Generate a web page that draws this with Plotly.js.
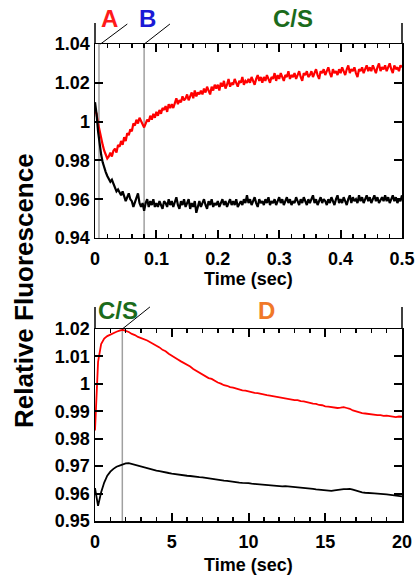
<!DOCTYPE html>
<html>
<head>
<meta charset="utf-8">
<script src="https://cdn.plot.ly/plotly-3.0.1.min.js"></script>
<style>html,body{margin:0;padding:0;background:#fff;}#chart{width:416px;height:577px;}</style>
</head>
<body>
<div id="chart"></div>
<script>
// ---- data ----
const topT0 = 0, topDt = 0.0025;  // time grid of the top panel (sec)
const botT0 = 0, botDt = 0.2;     // time grid of the bottom panel (sec)

const redTop = [
 1.006,1.004,0.999,0.995,0.991,0.988,0.985,0.983,0.981,0.982,
 0.984,0.982,0.985,0.986,0.984,0.988,0.987,0.990,0.988,0.992,
 0.990,0.994,0.993,0.996,0.995,0.999,0.998,1.001,0.999,1.002,
 1.000,0.998,0.997,0.999,1.001,1.000,1.003,1.001,1.004,1.002,
 1.005,1.003,1.006,1.004,1.007,1.006,1.008,1.005,1.009,1.007,
 1.009,1.007,1.010,1.012,1.009,1.011,1.010,1.013,1.011,1.012,
 1.014,1.011,1.013,1.015,1.012,1.016,1.013,1.015,1.014,1.016,
 1.014,1.017,1.015,1.018,1.016,1.014,1.018,1.016,1.019,1.017,
 1.019,1.016,1.020,1.018,1.021,1.017,1.019,1.022,1.018,1.020,
 1.019,1.022,1.020,1.018,1.021,1.020,1.023,1.019,1.021,1.020,
 1.022,1.020,1.023,1.021,1.019,1.022,1.024,1.021,1.023,1.020,
 1.023,1.021,1.024,1.022,1.020,1.023,1.022,1.025,1.021,1.024,
 1.022,1.025,1.023,1.021,1.024,1.023,1.026,1.022,1.024,1.023,
 1.025,1.022,1.024,1.026,1.023,1.021,1.025,1.024,1.026,1.023,
 1.024,1.026,1.023,1.025,1.027,1.024,1.022,1.026,1.025,1.027,
 1.024,1.026,1.028,1.025,1.023,1.027,1.025,1.026,1.024,1.027,
 1.025,1.028,1.026,1.024,1.027,1.029,1.025,1.027,1.026,1.028,
 1.025,1.023,1.027,1.026,1.028,1.025,1.027,1.029,1.026,1.028,
 1.026,1.029,1.027,1.025,1.028,1.030,1.026,1.028,1.027,1.029,
 1.026,1.028,1.030,1.027,1.025,1.029,1.027,1.028,1.026,1.029,
 1.028
];
const blackTop = [
 1.010,1.004,0.995,0.988,0.983,0.979,0.976,0.974,0.972,0.970,
 0.969,0.970,0.968,0.966,0.964,0.965,0.963,0.962,0.964,0.961,
 0.959,0.961,0.963,0.960,0.959,0.956,0.958,0.961,0.963,0.958,
 0.956,0.958,0.954,0.958,0.960,0.956,0.959,0.957,0.960,0.956,
 0.958,0.956,0.959,0.957,0.955,0.959,0.958,0.956,0.960,0.957,
 0.959,0.956,0.958,0.961,0.957,0.955,0.959,0.957,0.960,0.956,
 0.958,0.960,0.955,0.958,0.956,0.959,0.953,0.957,0.959,0.956,
 0.958,0.960,0.957,0.955,0.959,0.957,0.960,0.956,0.958,0.957,
 0.959,0.956,0.958,0.960,0.957,0.959,0.956,0.958,0.960,0.957,
 0.959,0.957,0.960,0.956,0.958,0.959,0.957,0.960,0.958,0.962,
 0.958,0.960,0.957,0.959,0.961,0.958,0.956,0.960,0.958,0.959,
 0.957,0.960,0.958,0.961,0.957,0.959,0.958,0.960,0.957,0.959,
 0.961,0.958,0.960,0.957,0.959,0.961,0.958,0.960,0.957,0.959,
 0.958,0.961,0.959,0.957,0.960,0.958,0.961,0.959,0.957,0.960,
 0.958,0.960,0.962,0.958,0.960,0.957,0.959,0.961,0.958,0.960,
 0.959,0.957,0.960,0.958,0.961,0.959,0.957,0.960,0.962,0.958,
 0.960,0.958,0.961,0.959,0.957,0.960,0.962,0.958,0.961,0.959,
 0.960,0.958,0.962,0.959,0.961,0.958,0.960,0.962,0.959,0.961,
 0.958,0.960,0.962,0.959,0.961,0.958,0.960,0.961,0.959,0.962,
 0.959,0.961,0.958,0.960,0.962,0.959,0.961,0.958,0.960,0.959,
 0.962
];
const redBot = [
 0.983,1.008,1.0145,1.0165,1.0174,1.018,1.0186,1.019,1.0194,1.0197,
 1.0193,1.0189,1.0182,1.0178,1.0171,1.0167,1.0162,1.0158,1.0152,1.0146,
 1.0139,1.0133,1.0124,1.0119,1.011,1.0102,1.0097,1.0089,1.0082,1.0076,
 1.0068,1.0063,1.0054,1.0047,1.0042,1.0034,1.0029,1.0021,1.0018,1.0011,
 1.0005,1.0001,0.9995,0.9993,0.9988,0.9986,0.9982,0.9980,0.9976,0.9975,
 0.9972,0.9971,0.9967,0.9966,0.9963,0.9962,0.9959,0.9957,0.9955,0.9952,
 0.9951,0.9948,0.9948,0.9945,0.9944,0.9941,0.9941,0.9937,0.9936,0.9933,
 0.9931,0.9928,0.9927,0.9923,0.9922,0.9918,0.9917,0.9915,0.9913,0.9912,
 0.9913,0.9915,0.9912,0.9909,0.9903,0.9899,0.9897,0.9893,0.9892,0.9890,
 0.9889,0.9888,0.9886,0.9886,0.9883,0.9884,0.9882,0.9881,0.9879,0.9881,0.9880
];
const blackBot = [
 0.962,0.9555,0.9605,0.964,0.9665,0.968,0.969,0.9698,0.9702,0.9706,
 0.971,0.9711,0.9708,0.9705,0.9701,0.9697,0.9694,0.9691,0.9689,0.9686,
 0.9684,0.9682,0.9679,0.9677,0.9675,0.9673,0.9671,0.967,0.9668,0.9667,
 0.9665,0.9664,0.9662,0.9661,0.966,0.9659,0.9657,0.9656,0.9654,0.9652,
 0.965,0.9649,0.9647,0.9646,0.9644,0.9643,0.9642,0.964,0.9639,0.9639,
 0.9638,0.9636,0.9635,0.9633,0.9632,0.9631,0.963,0.9629,0.9628,0.9627,
 0.9626,0.9626,0.9627,0.9626,0.9625,0.9625,0.9624,0.9623,0.9621,0.9619,
 0.9618,0.9617,0.9615,0.9614,0.9613,0.9612,0.961,0.961,0.9612,0.9614,
 0.9615,0.9616,0.9616,0.9617,0.9614,0.961,0.9606,0.9604,0.9603,0.9603,
 0.9602,0.9601,0.96,0.96,0.9598,0.9597,0.9596,0.9595,0.9594,0.9592,0.959
];

// phase markers (sec)
const topMarks = [0.0065, 0.08];
const botMarks = [1.78];
const topLabels = [
  {text:'A',   t:0.0244, color:'#ff1a1a'},
  {text:'B',   t:0.0847, color:'#1a1ad6'},
  {text:'C/S', t:0.3225, color:'#1b6b1b'}
];
const botLabels = [
  {text:'C/S', t:1.5,  color:'#1b6b1b'},
  {text:'D',   t:11.2, color:'#f07828'}
];
const xTitle = 'Time (sec)';
const yTitle = 'Relative Fluorescence';

// ---- styling ----
const FONT = 'Liberation Sans, Arial, Helvetica, sans-serif';
function tickFont() { return {family: FONT, size: 18, color: '#000', weight: 'bold'}; }

function axisCommon(extra) {
  return Object.assign({
    showline: true, linecolor: '#000', linewidth: 1.5, mirror: 'ticks',
    ticks: 'inside', ticklen: 7, tickwidth: 2, tickcolor: '#000', layer: 'above traces',
    showgrid: false, zeroline: false, tickfont: tickFont(), fixedrange: true
  }, extra);
}

const traces = [
  {x0: topT0, dx: topDt, y: redTop, type: 'scatter', mode: 'lines',
   line: {color: '#ff0000', width: 2.2}, xaxis: 'x', yaxis: 'y', showlegend: false},
  {x0: topT0, dx: topDt, y: blackTop, type: 'scatter', mode: 'lines',
   line: {color: '#000000', width: 2.2}, xaxis: 'x', yaxis: 'y', showlegend: false},
  {x0: botT0, dx: botDt, y: redBot, type: 'scatter', mode: 'lines',
   line: {color: '#ff0000', width: 1.8}, xaxis: 'x2', yaxis: 'y2', showlegend: false},
  {x0: botT0, dx: botDt, y: blackBot, type: 'scatter', mode: 'lines',
   line: {color: '#000000', width: 1.8}, xaxis: 'x2', yaxis: 'y2', showlegend: false}
];

const shapes = [];
// frame extensions above each panel
[['x','y',1.108],['x2','y2',1.115]].forEach(([xa, ya, top]) => {
  [0, 1].forEach(xd => shapes.push({type:'line', xref: xa + ' domain', yref: ya + ' domain',
    x0: xd, x1: xd, y0: 1, y1: top, line: {color:'#000', width:1.5}}));
});
// gray vertical phase lines and diagonal connectors
topMarks.forEach(t => {
  shapes.push({type:'line', xref:'x', yref:'y domain', x0:t, x1:t, y0:0, y1:1,
    layer:'below', line:{color:'#a0a0a0', width:1.5}});
});
shapes.push({type:'line', xref:'x', yref:'y domain', x0:0.009, x1:0.0526, y0:1, y1:1.103, line:{color:'#000', width:1}});
shapes.push({type:'line', xref:'x', yref:'y domain', x0:0.0803, x1:0.122, y0:1, y1:1.103, line:{color:'#000', width:1}});
botMarks.forEach(t => {
  shapes.push({type:'line', xref:'x2', yref:'y2 domain', x0:t, x1:t, y0:0, y1:1,
    layer:'below', line:{color:'#a0a0a0', width:1.5}});
});
shapes.push({type:'line', xref:'x2', yref:'y2 domain', x0:1.78, x1:3.58, y0:1, y1:1.115, line:{color:'#000', width:1}});

const annotations = [];
topLabels.forEach(l => annotations.push({text: l.text, x: l.t, y: 1.134, xref:'x', yref:'y domain',
  showarrow:false, xanchor:'center', yanchor:'middle',
  font:{family:FONT, size:24, color:l.color, weight:'bold'}}));
botLabels.forEach(l => annotations.push({text: l.text, x: l.t, y: 1.094, xref:'x2', yref:'y2 domain',
  showarrow:false, xanchor:'center', yanchor:'middle',
  font:{family:FONT, size:24, color:l.color, weight:'bold'}}));
annotations.push({text: yTitle, textangle:-90, x:-0.232, y:0.484,
  xref:'paper', yref:'paper', showarrow:false, xanchor:'center', yanchor:'middle',
  font:{family:FONT, size:26, color:'#000', weight:'bold'}});
// x-axis titles of the two panels
[0.5073, -0.0922].forEach(yy => annotations.push({text: xTitle, x:0.5, y:yy,
  xref:'paper', yref:'paper', showarrow:false, xanchor:'center', yanchor:'middle',
  font:{family:FONT, size:18, color:'#000', weight:'bold'}}));

const layout = {
  width: 416, height: 577,
  margin: {l: 95, r: 14, t: 44, b: 56},
  xaxis: axisCommon({domain:[0,1], anchor:'y', range:[0,0.5], dtick:0.1, tick0:0,
    ticklabelstandoff: 4,
    minor:{dtick:0.02, ticks:'inside', ticklen:4, tickcolor:'#000', tickwidth:1.5}}),
  yaxis: axisCommon({domain:[0.5933,1], anchor:'x', range:[0.94,1.04], dtick:0.02, tick0:0.94}),
  xaxis2: axisCommon({domain:[0,1], anchor:'y2', range:[0,20], dtick:5, tick0:0,
    ticklabelstandoff: 4,
    minor:{dtick:1, ticks:'inside', ticklen:4, tickcolor:'#000', tickwidth:1.5}}),
  yaxis2: axisCommon({domain:[0,0.4025], anchor:'x2', range:[0.95,1.02], dtick:0.01, tick0:0.95}),
  shapes: shapes,
  annotations: annotations
};

Plotly.newPlot('chart', traces, layout, {displayModeBar:false, staticPlot:true})
  .then(gd => Plotly.relayout(gd, {
    'xaxis.ticklen': 8, 'yaxis.ticklen': 8, 'xaxis2.ticklen': 8, 'yaxis2.ticklen': 8
  }))
  .catch(() => {});
</script>
</body>
</html>
